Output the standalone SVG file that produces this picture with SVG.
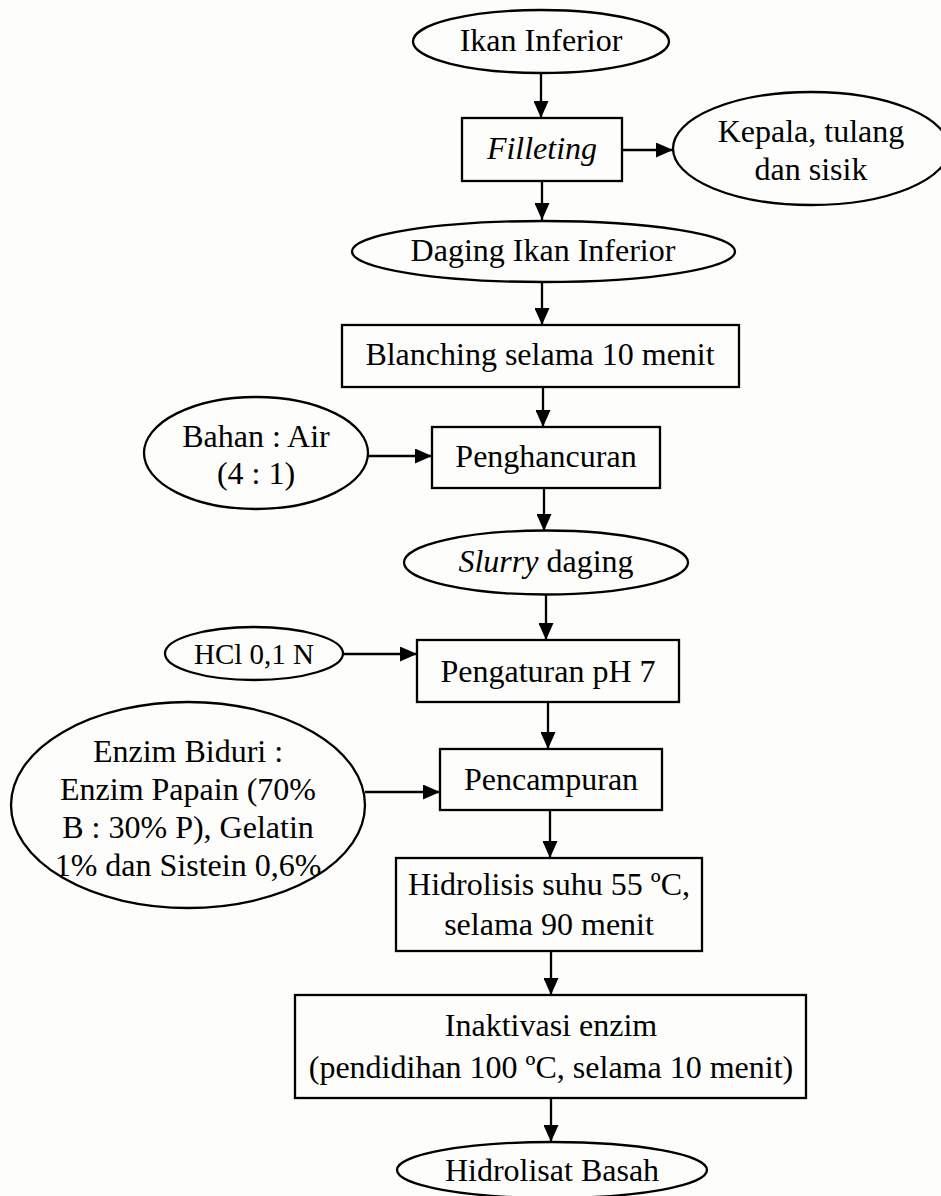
<svg xmlns="http://www.w3.org/2000/svg" width="941" height="1196" viewBox="0 0 941 1196">
<defs>
<style>
.shape{fill:#fdfdfb;stroke:#000;stroke-width:2.3}
.t{font-family:"Liberation Serif","Times New Roman",serif;font-size:32px;fill:#000;text-anchor:middle}
.s{font-size:29px}
.c{stroke:#000;stroke-width:2.3;fill:none;marker-end:url(#ah)}
</style>
<marker id="ah" viewBox="0 0 17 15" refX="17" refY="7.5" markerWidth="17" markerHeight="15" markerUnits="userSpaceOnUse" orient="auto">
<path d="M0,0 L17,7.5 L0,15 Z" fill="#000"/>
</marker>
</defs>
<rect width="941" height="1196" fill="#fdfdfb"/>
<g id="connectors">
<line class="c" x1="541" y1="73" x2="541" y2="118"/>
<line class="c" x1="622" y1="150" x2="673" y2="150"/>
<line class="c" x1="542" y1="181" x2="542" y2="220"/>
<line class="c" x1="542" y1="282" x2="542" y2="325"/>
<line class="c" x1="543" y1="387" x2="543" y2="427"/>
<line class="c" x1="368" y1="456" x2="432" y2="456"/>
<line class="c" x1="544" y1="488" x2="544" y2="531"/>
<line class="c" x1="546" y1="595" x2="546" y2="640"/>
<line class="c" x1="343" y1="654" x2="417" y2="654"/>
<line class="c" x1="548" y1="702" x2="548" y2="749"/>
<line class="c" x1="365" y1="792" x2="440" y2="792"/>
<line class="c" x1="550" y1="810" x2="550" y2="858"/>
<line class="c" x1="551" y1="951" x2="551" y2="995"/>
<line class="c" x1="551" y1="1098" x2="551" y2="1142"/>
</g>
<g id="n-ikan">
<ellipse class="shape" cx="541" cy="41.5" rx="128" ry="31.5"/>
<text class="t" x="541" y="51">Ikan Inferior</text>
</g>
<g id="n-filleting">
<rect class="shape" x="462" y="118" width="160" height="63"/>
<text class="t" x="542" y="159" font-style="italic">Filleting</text>
</g>
<g id="n-kepala">
<ellipse class="shape" cx="811" cy="148.5" rx="138" ry="56.5"/>
<text class="t" x="811" y="142">Kepala, tulang</text>
<text class="t" x="811" y="180">dan sisik</text>
</g>
<g id="n-daging">
<ellipse class="shape" cx="543.5" cy="251.5" rx="191.5" ry="30.5"/>
<text class="t" x="543" y="261">Daging Ikan Inferior</text>
</g>
<g id="n-blanching">
<rect class="shape" x="342" y="325" width="397" height="62"/>
<text class="t" x="540" y="365">Blanching selama 10 menit</text>
</g>
<g id="n-bahan">
<ellipse class="shape" cx="256" cy="453" rx="112" ry="56"/>
<text class="t" x="256" y="447" font-size="31">Bahan : Air</text>
<text class="t" x="256" y="484" font-size="31">(4 : 1)</text>
</g>
<g id="n-penghancuran">
<rect class="shape" x="432" y="427" width="228" height="61"/>
<text class="t" x="546" y="467">Penghancuran</text>
</g>
<g id="n-slurry">
<ellipse class="shape" cx="546" cy="562.5" rx="142" ry="32"/>
<text class="t" x="546" y="572"><tspan font-style="italic">Slurry</tspan> daging</text>
</g>
<g id="n-hcl">
<ellipse class="shape" cx="254" cy="653.5" rx="89" ry="26.5"/>
<text class="t s" x="254" y="664">HCl 0,1 N</text>
</g>
<g id="n-pengaturan">
<rect class="shape" x="417" y="640" width="262" height="62"/>
<text class="t" x="548" y="682">Pengaturan pH 7</text>
</g>
<g id="n-enzim">
<ellipse class="shape" cx="188" cy="805" rx="177" ry="103"/>
<text class="t" x="188" y="762" font-size="30">Enzim Biduri :</text>
<text class="t" x="188" y="800" font-size="30">Enzim Papain (70%</text>
<text class="t" x="188" y="838" font-size="30">B : 30% P), Gelatin</text>
<text class="t" x="188" y="876" font-size="30">1% dan Sistein 0,6%</text>
</g>
<g id="n-pencampuran">
<rect class="shape" x="440" y="749" width="222" height="61"/>
<text class="t" x="551" y="790">Pencampuran</text>
</g>
<g id="n-hidrolisis">
<rect class="shape" x="396" y="858" width="306" height="93"/>
<text class="t" x="549" y="895" font-size="29.5">Hidrolisis suhu 55 ºC,</text>
<text class="t" x="549" y="935" font-size="29.5">selama 90 menit</text>
</g>
<g id="n-inaktivasi">
<rect class="shape" x="295" y="995" width="511" height="103"/>
<text class="t" x="551" y="1036">Inaktivasi enzim</text>
<text class="t" x="551" y="1078">(pendidihan 100 ºC, selama 10 menit)</text>
</g>
<g id="n-hidrolisat">
<ellipse class="shape" cx="552" cy="1170" rx="155" ry="28"/>
<text class="t" x="552" y="1181">Hidrolisat Basah</text>
</g>
</svg>
